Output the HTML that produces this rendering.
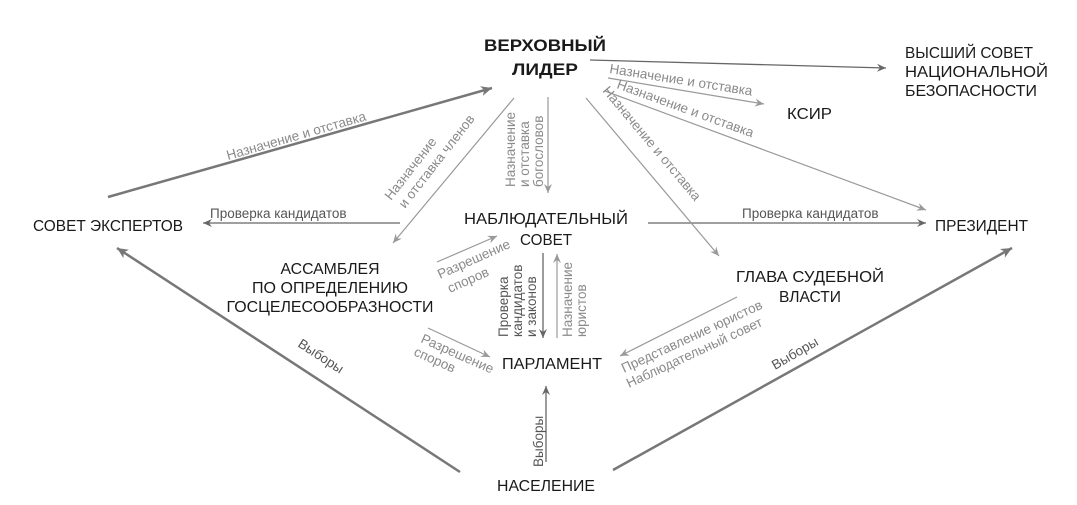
<!DOCTYPE html>
<html><head><meta charset="utf-8"><style>
html,body{margin:0;padding:0;background:#fff;}
svg{display:block;font-family:"Liberation Sans",sans-serif;}
.n{font-size:16px;fill:#1a1a1a;}
.b{font-size:17px;font-weight:bold;fill:#1a1a1a;}
.l{font-size:13.5px;fill:#8a8a8a;}
.d{font-size:13.5px;fill:#555;}
</style></head><body>
<svg width="1077" height="505" viewBox="0 0 1077 505">
<defs>
<marker id="ag" markerWidth="10" markerHeight="10" refX="9" refY="5" orient="auto" markerUnits="userSpaceOnUse"><path d="M0,1 L9,5 L0,9 L3,5z" fill="#999"/></marker>
<marker id="ad" markerWidth="12" markerHeight="12" refX="11" refY="6" orient="auto" markerUnits="userSpaceOnUse"><path d="M0,1 L11,6 L0,11 L3,6z" fill="#777"/></marker>
<marker id="ak" markerWidth="10" markerHeight="10" refX="9" refY="5" orient="auto" markerUnits="userSpaceOnUse"><path d="M0,1 L9,5 L0,9 L3,5z" fill="#666"/></marker>
</defs>

<!-- nodes -->
<text class="b" x="545" y="51" text-anchor="middle" textLength="122" lengthAdjust="spacingAndGlyphs">ВЕРХОВНЫЙ</text>
<text class="b" x="545" y="75" text-anchor="middle" textLength="66" lengthAdjust="spacingAndGlyphs">ЛИДЕР</text>
<text class="n" x="905" y="58" textLength="128" lengthAdjust="spacingAndGlyphs">ВЫСШИЙ СОВЕТ</text>
<text class="n" x="905" y="77" textLength="143" lengthAdjust="spacingAndGlyphs">НАЦИОНАЛЬНОЙ</text>
<text class="n" x="905" y="96" textLength="132" lengthAdjust="spacingAndGlyphs">БЕЗОПАСНОСТИ</text>
<text class="n" x="787" y="119" textLength="45" lengthAdjust="spacingAndGlyphs">КСИР</text>
<text class="n" x="33" y="231" textLength="150" lengthAdjust="spacingAndGlyphs">СОВЕТ ЭКСПЕРТОВ</text>
<text class="n" x="546" y="224" text-anchor="middle" textLength="164" lengthAdjust="spacingAndGlyphs">НАБЛЮДАТЕЛЬНЫЙ</text>
<text class="n" x="546" y="245" text-anchor="middle" textLength="52" lengthAdjust="spacingAndGlyphs">СОВЕТ</text>
<text class="n" x="935" y="231" textLength="93" lengthAdjust="spacingAndGlyphs">ПРЕЗИДЕНТ</text>
<text class="n" x="330" y="274" text-anchor="middle" textLength="99" lengthAdjust="spacingAndGlyphs">АССАМБЛЕЯ</text>
<text class="n" x="330" y="293" text-anchor="middle" textLength="156" lengthAdjust="spacingAndGlyphs">ПО ОПРЕДЕЛЕНИЮ</text>
<text class="n" x="330" y="312" text-anchor="middle" textLength="207" lengthAdjust="spacingAndGlyphs">ГОСЦЕЛЕСООБРАЗНОСТИ</text>
<text class="n" x="810" y="282" text-anchor="middle" textLength="148" lengthAdjust="spacingAndGlyphs">ГЛАВА СУДЕБНОЙ</text>
<text class="n" x="810" y="302" text-anchor="middle" textLength="62" lengthAdjust="spacingAndGlyphs">ВЛАСТИ</text>
<text class="n" x="552" y="369" text-anchor="middle" textLength="100" lengthAdjust="spacingAndGlyphs">ПАРЛАМЕНТ</text>
<text class="n" x="546" y="491" text-anchor="middle" textLength="98" lengthAdjust="spacingAndGlyphs">НАСЕЛЕНИЕ</text>

<!-- dark thick -->
<g stroke="#777" stroke-width="2.5" fill="none">
<line x1="108" y1="197" x2="492" y2="88" marker-end="url(#ad)"/>
<line x1="460" y1="472" x2="117" y2="248" marker-end="url(#ad)"/>
<line x1="613" y1="470" x2="1012" y2="248" marker-end="url(#ad)"/>
</g>
<g stroke="#666" stroke-width="1.3" fill="none">
<line x1="590" y1="60" x2="886" y2="68" marker-end="url(#ak)"/>
<line x1="546" y1="462" x2="546" y2="386" marker-end="url(#ak)"/>
<line x1="543" y1="253" x2="543" y2="338" marker-end="url(#ak)"/>
<line x1="400" y1="223" x2="203" y2="223" marker-end="url(#ak)"/>
<line x1="648" y1="223" x2="926" y2="223" marker-end="url(#ak)"/>
</g>
<g stroke="#999" stroke-width="1.2" fill="none">
<line x1="608" y1="78" x2="764" y2="104" marker-end="url(#ag)"/>
<line x1="605" y1="91" x2="926" y2="210" marker-end="url(#ag)"/>
<line x1="586" y1="98" x2="719" y2="256" marker-end="url(#ag)"/>
<line x1="514" y1="98" x2="393" y2="243" marker-end="url(#ag)"/>
<line x1="548" y1="97" x2="548" y2="193" marker-end="url(#ag)"/>
<line x1="557" y1="338" x2="557" y2="254" marker-end="url(#ag)"/>
<line x1="437" y1="262" x2="497" y2="236" marker-end="url(#ag)"/>
<line x1="428" y1="328" x2="490" y2="357" marker-end="url(#ag)"/>
<line x1="737" y1="297" x2="620" y2="356" marker-end="url(#ag)"/>
</g>

<!-- labels -->
<text class="l" transform="translate(228,160) rotate(-16)">Назначение и отставка</text>
<text class="d" transform="translate(297,346) rotate(33)">Выборы</text>
<text class="d" transform="translate(775,370) rotate(-30)">Выборы</text>
<text class="d" transform="translate(543,467) rotate(-90)">Выборы</text>
<text class="d" x="210" y="218">Проверка кандидатов</text>
<text class="d" x="742" y="218">Проверка кандидатов</text>
<text class="l" transform="translate(609,73) rotate(9)">Назначение и отставка</text>
<text class="l" transform="translate(616,88) rotate(20)">Назначение и отставка</text>
<text class="l" transform="translate(602,91) rotate(50)">Назначение и отставка</text>
<text class="l" transform="translate(391,201) rotate(-52)">Назначение</text>
<text class="l" transform="translate(405,209) rotate(-52)">и отставка членов</text>
<text class="l" transform="translate(515,187) rotate(-90)">Назначение</text>
<text class="l" transform="translate(529,187) rotate(-90)">и отставка</text>
<text class="l" transform="translate(543,187) rotate(-90)">богословов</text>
<text class="d" transform="translate(508,337) rotate(-90)">Проверка</text>
<text class="d" transform="translate(522,337) rotate(-90)">кандидатов</text>
<text class="d" transform="translate(536,337) rotate(-90)">и законов</text>
<text class="l" transform="translate(572,337) rotate(-90)">Назначение</text>
<text class="l" transform="translate(586,337) rotate(-90)">юристов</text>
<text class="l" transform="translate(440,279) rotate(-24)">Разрешение</text>
<text class="l" transform="translate(450,293) rotate(-24)">споров</text>
<text class="l" transform="translate(420,342) rotate(24)">Разрешение</text>
<text class="l" transform="translate(413,355) rotate(24)">споров</text>
<text class="l" transform="translate(624,373) rotate(-25)">Представление юристов</text>
<text class="l" transform="translate(629,388) rotate(-25)">Наблюдательный совет</text>
</svg>
</body></html>
